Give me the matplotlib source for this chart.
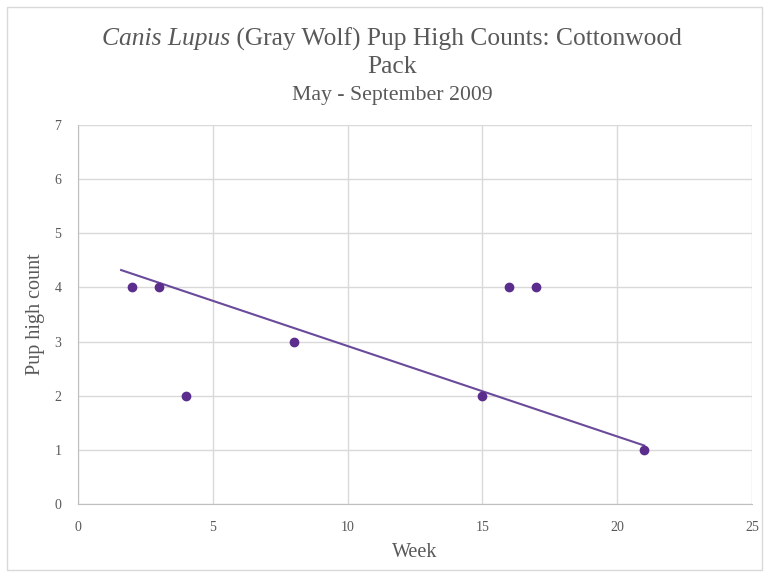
import matplotlib.pyplot as plt
from matplotlib.patches import Rectangle

# === Données ===
weeks = [2, 3, 4, 8, 15, 16, 17, 21]
pup_counts = [4, 4, 2, 3, 2, 4, 4, 1]

# Courbe de tendance (extrémités)
trend_x = [1.6, 21]
trend_y = [4.32, 1.08]

x_ticks = [0, 5, 10, 15, 20, 25]
y_ticks = [0, 1, 2, 3, 4, 5, 6, 7]

purple = "#5b2d8c"
text_gray = "#595959"
grid_gray = "#d9d9d9"

plt.rcParams["font.family"] = ["Liberation Serif", "DejaVu Serif"]

fig = plt.figure(figsize=(7.69, 5.77), dpi=100)
fig.patches.append(Rectangle((0.009, 0.012), 0.982, 0.976, transform=fig.transFigure,
                             fill=False, edgecolor="#d9d9d9", linewidth=1))

ax = fig.add_axes([0.1014, 0.1265, 0.8766, 0.657])
ax.plot(trend_x, trend_y, color="#6a4a9a", linewidth=1.5, zorder=2)
ax.scatter(weeks, pup_counts, s=36, color=purple, zorder=3)

ax.set_xlim(0, 25)
ax.set_ylim(0, 7)
ax.set_xticks(x_ticks)
ax.set_yticks(y_ticks)
ax.grid(True, color=grid_gray, linewidth=1)
ax.set_axisbelow(True)
for side in ["top", "right"]:
    ax.spines[side].set_visible(False)
for side in ["left", "bottom"]:
    ax.spines[side].set_color("#bfbfbf")
ax.tick_params(length=0, colors=text_gray, labelsize=10, pad=12)

ax.set_xlabel("Week", color=text_gray, fontsize=14.5, labelpad=7)
ax.set_ylabel("Pup high count", color=text_gray, fontsize=14.5, labelpad=7)

# === Titre (première ligne : partie italique + partie droite) ===
cx = 0.51
t1 = fig.text(cx, 0.932, "Canis Lupus", ha="right", va="center", fontsize=18.4,
              color=text_gray, style="italic")
t2 = fig.text(cx, 0.932, " (Gray Wolf) Pup High Counts: Cottonwood", ha="left", va="center",
              fontsize=18.4, color=text_gray)
fig.text(cx, 0.884, "Pack", ha="center", va="center", fontsize=18.4, color=text_gray)
fig.text(cx, 0.835, "May - September 2009", ha="center", va="center", fontsize=15.7, color=text_gray)

# recentrer la première ligne du titre
fig.canvas.draw()
r = fig.canvas.get_renderer()
b1 = t1.get_window_extent(r)
b2 = t2.get_window_extent(r)
shift = ((b1.x0 + b2.x1) / 2 - cx * fig.bbox.width) / fig.bbox.width
t1.set_x(cx - shift)
t2.set_x(cx - shift)

plt.savefig("out.png", dpi=100)
